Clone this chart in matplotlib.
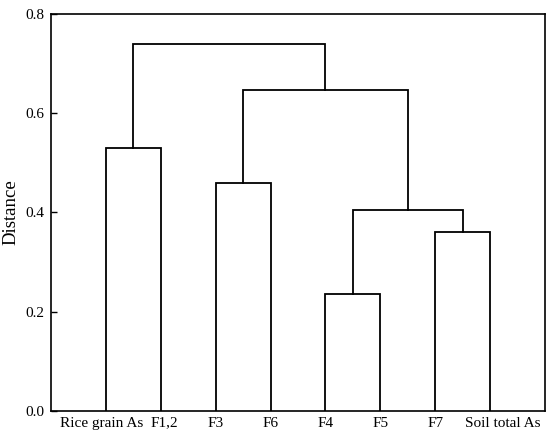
import matplotlib
matplotlib.use('Agg')
import matplotlib.pyplot as plt
import matplotlib.transforms as mtransforms

# leaf order along the x axis
leaves = ['Rice grain As', 'F1,2', 'F3', 'F6', 'F4', 'F5', 'F7', 'Soil total As']

# merges: (left cluster, right cluster, distance); clusters referenced by leaf name or merge index
merge_left = ['Rice grain As', 'F3', 'F4', 'F7', 2, 1, 0]
merge_right = ['F1,2', 'F6', 'F5', 'Soil total As', 3, 4, 5]
merge_dist = [0.53, 0.46, 0.236, 0.36, 0.405, 0.646, 0.74]

plt.rcParams['font.family'] = ['Liberation Serif', 'DejaVu Serif']

fig = plt.figure(figsize=(5.5, 4.36), dpi=100)
ax = fig.add_axes([0.0927, 0.0573, 0.8983, 0.9107])

pos = {name: i + 1 for i, name in enumerate(leaves)}
height = {name: 0.0 for name in leaves}

for i in range(len(merge_dist)):
    a, b, d = merge_left[i], merge_right[i], merge_dist[i]
    xa, xb = pos[a], pos[b]
    ya, yb = height[a], height[b]
    ax.plot([xa, xa, xb, xb], [ya, d, d, yb], color='black', lw=1.3,
            solid_joinstyle='miter')
    pos[i] = (xa + xb) / 2
    height[i] = d

ax.set_xlim(0, len(leaves) + 1)
ax.set_ylim(0, 0.8)
ax.set_xticks(range(1, len(leaves) + 1))
ax.set_xticklabels(leaves, fontsize=11)
ax.set_yticks([0.0, 0.2, 0.4, 0.6, 0.8])
ax.set_yticklabels(['0.0', '0.2', '0.4', '0.6', '0.8'], fontsize=11)
ax.tick_params(axis='x', length=0, pad=4)
ax.tick_params(axis='y', direction='in', length=4, width=1, pad=5)
ax.set_ylabel('Distance', fontsize=13.5, labelpad=4)

# nudge the crowded leaf labels apart (pixels)
shift = {'Rice grain As': -4, 'F1,2': 3.5, 'Soil total As': 12.5}
for lab in ax.get_xticklabels():
    dx = shift.get(lab.get_text(), 0)
    if dx:
        lab.set_transform(lab.get_transform() +
                          mtransforms.ScaledTranslation(dx / 100, 0, fig.dpi_scale_trans))

for s in ax.spines.values():
    s.set_linewidth(1.2)

fig.savefig('out.png', dpi=100)
